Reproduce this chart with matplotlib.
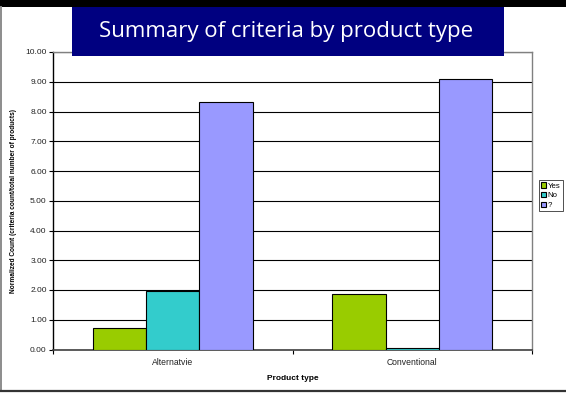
import matplotlib
matplotlib.use("Agg")
import matplotlib.pyplot as plt
from matplotlib.patches import Rectangle
from matplotlib.lines import Line2D
import numpy as np

categories = ["Alternatvie", "Conventional"]
series_names = ["Yes", "No", "?"]
yes_values = [0.72, 1.86]
no_values = [1.95, 0.05]
unknown_values = [8.33, 9.09]
colors = ["#99CC00", "#33CCCC", "#9999FF"]
y_ticks = [0, 1, 2, 3, 4, 5, 6, 7, 8, 9, 10]

W, H = 566, 393
fig = plt.figure(figsize=(W / 100, H / 100), dpi=100)
fig.patch.set_facecolor("white")

def fx(px):
    return px / W

def fy(py):
    return 1 - py / H

# slide frame
fig.add_artist(Rectangle((0, fy(7)), 1, 7 / H, transform=fig.transFigure,
                         facecolor="black", edgecolor="none", zorder=5))
fig.add_artist(Line2D([fx(1.2), fx(1.2)], [fy(7), fy(391)], transform=fig.transFigure,
                      color="#8c8c8c", lw=1.4, zorder=5))
fig.add_artist(Line2D([0, 1], [fy(391), fy(391)], transform=fig.transFigure,
                      color="#333333", lw=1.6, zorder=5))

ax = fig.add_axes([fx(53), fy(349.5), fx(532) - fx(53), fy(52) - fy(349.5)])

x = np.arange(len(categories)) + 0.5
bw = 1 / 4.5
for i, (vals, name) in enumerate(zip([yes_values, no_values, unknown_values], series_names)):
    ax.bar(x + (i - 1) * bw, vals, width=bw, color=colors[i], edgecolor="black",
           linewidth=0.8, label=name, zorder=3)

ax.set_xlim(0, len(categories))
ax.set_ylim(0, 10)
ax.set_yticks(y_ticks)
ax.set_yticklabels([f"{v:.2f}" for v in y_ticks], fontsize=6, family="Liberation Sans",
                   color="#222222")
ax.yaxis.grid(True, color="black", lw=0.8, zorder=0)
ax.set_axisbelow(True)

ax.set_xticks(x)
ax.set_xticklabels(categories, fontsize=6.2, family="Liberation Sans", color="#222222")
ax.tick_params(axis="x", which="major", length=0, pad=6)
ax.set_xticks([0, 1, 2], minor=True)
ax.tick_params(axis="x", which="minor", length=3, width=0.8, direction="out")
ax.tick_params(axis="y", length=3, width=0.8, pad=1.5)

for side in ["top", "right"]:
    ax.spines[side].set_color("#808080")
    ax.spines[side].set_linewidth(1.0)
ax.spines["left"].set_color("black")
ax.spines["bottom"].set_color("#404040")
ax.spines["left"].set_linewidth(1.0)
ax.spines["bottom"].set_linewidth(1.2)

ax.set_xlabel("Product type", fontsize=6, fontweight="bold", family="Liberation Sans",
              labelpad=6)
ax.set_ylabel("Normalized Count (criteria count/total number of products)", fontsize=4.7,
              fontweight="bold", family="Liberation Sans", labelpad=6)

leg = ax.legend(loc="upper left", bbox_to_anchor=(fx(539), fy(180)),
                bbox_transform=fig.transFigure, fontsize=5.6, frameon=True,
                fancybox=False, edgecolor="black", handlelength=0.65, handleheight=0.65,
                handletextpad=0.15, borderpad=0.3, labelspacing=0.3, borderaxespad=0)
leg.get_frame().set_linewidth(0.6)
for t in leg.get_texts():
    t.set_family("Liberation Sans")

# title banner
fig.add_artist(Rectangle((fx(72), fy(56)), fx(504) - fx(72), (56 - 7) / H,
                         transform=fig.transFigure, facecolor="#000080",
                         edgecolor="none", zorder=6))
fig.text(fx(286), fy(32), "Summary of criteria by product type", color="white",
         fontsize=16, family="Open Sans", ha="center", va="center", zorder=7)

fig.savefig("out.png", dpi=100)
